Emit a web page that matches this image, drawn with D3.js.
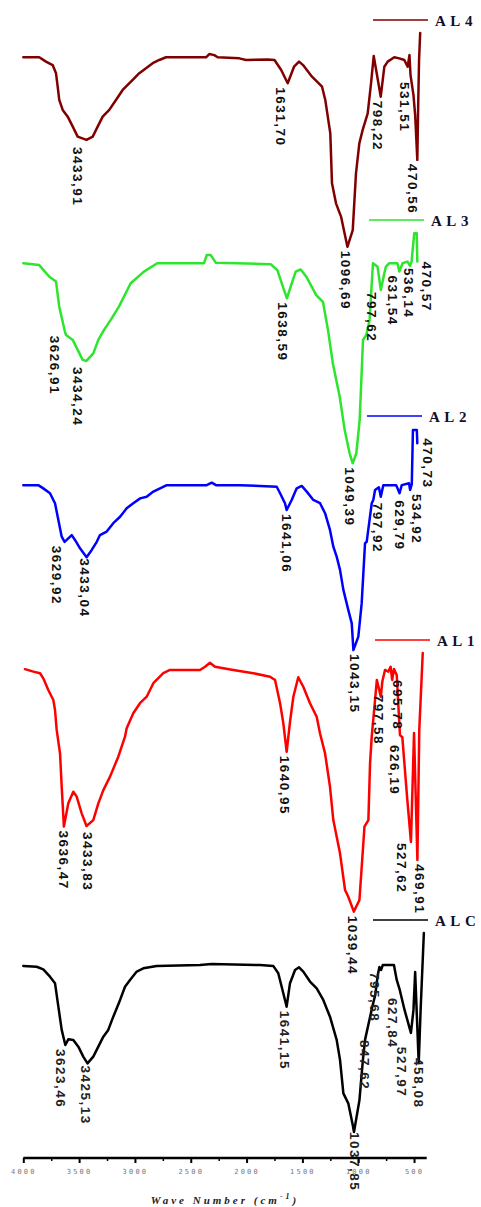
<!DOCTYPE html>
<html>
<head>
<meta charset="utf-8">
<script src="https://cdn.jsdelivr.net/npm/d3@7"></script>
<style>
  html, body { margin: 0; padding: 0; background: #fff; }
  svg { display: block; }
</style>
</head>
<body>
<svg id="chart" width="481" height="1207"></svg>
<script>
// FTIR spectra: [wavenumber (cm-1), transmittance (a.u.)]
const al4 = [
  [4000,89.9],[3857,89.9],[3797,88.3],[3737,87.0],[3707,84.0],[3692,79.0],[3678,74.1],[3647,70.4],
  [3602,67.9],[3557,64.2],[3513,60.5],[3433.91,59.3],[3378,60.5],[3334,64.2],[3289,67.9],[3230,70.4],
  [3170,74.1],[3110,77.8],[3020,81.5],[2961,84.0],[2901,85.8],[2841,87.7],[2782,88.9],[2722,89.9],
  [2363,89.9],[2334,91.1],[2289,90.7],[2259,89.9],[2065,89.5],[2005,88.9],[1810,89.1],[1750,88.9],
  [1690,85.2],[1631.70,80.3],[1575,86.4],[1530,88.3],[1494,87.0],[1414,82.7],[1324,79.0],[1295,74.1],
  [1250,61.7],[1235,43.2],[1199,35.8],[1154,30.9],[1096.69,19.7],[1049,25.9],[1020,46.9],[990,58.0],
  [960,63.0],[915,69.1],[885,80.3],[861,90.4],[798.22,75.3],[766,86.4],[736,88.3],[677,89.9],
  [632,89.5],[587,88.9],[557,86.4],[541,90.7],[531.51,83.3],[505,75.9],[490,68.5],[470.56,51.9],
  [462,74.1],[455,88.9],[445,98.9]
];
const al3 = [
  [4000,87.7],[3857,87.0],[3767,82.7],[3707,80.9],[3678,71.6],[3626.91,62.3],[3617,61.1],[3557,59.3],
  [3513,55.6],[3468,51.9],[3434.24,51.5],[3373,54.3],[3328,59.3],[3277,63.0],[3217,66.7],[3143,71.6],
  [3038,80.3],[2919,84.6],[2800,87.7],[2381,87.7],[2357,90.7],[2321,90.7],[2276,87.9],[2083,87.7],
  [1784,87.3],[1725,85.2],[1665,77.8],[1638.59,74.7],[1605,79.0],[1560,84.6],[1515,85.4],[1465,82.7],
  [1376,75.9],[1316,73.4],[1271,63.0],[1227,50.6],[1166,38.3],[1121,25.9],[1077,17.3],[1049.39,13.6],
  [1017,17.3],[987,29.6],[972,44.4],[957,59.3],[928,61.1],[898,66.7],[868,87.7],[827,86.4],
  [797.62,77.8],[766,84.0],[752,86.4],[721,87.7],[649,87.7],[631.54,84.6],[603,87.7],[558,88.3],
  [536.14,86.7],[522,88.3],[498,98.8],[476,98.8],[470.57,88.3]
];
const al2 = [
  [4000,78.1],[3866,78.1],[3821,76.9],[3761,75.1],[3716,71.4],[3686,65.2],[3656,59.0],[3629.92,57.1],
  [3611,57.8],[3566,59.6],[3537,57.8],[3492,54.7],[3433.04,51.4],[3387,54.1],[3342,57.1],[3313,59.6],
  [3253,60.9],[3194,64.0],[3133,66.4],[3074,69.5],[3015,71.4],[2953,73.2],[2895,73.8],[2835,75.7],
  [2775,76.9],[2715,78.1],[2357,78.1],[2312,79.0],[2274,78.1],[2059,78.1],[1880,77.8],[1730,77.5],
  [1700,75.1],[1656,71.4],[1641.06,68.9],[1596,72.6],[1551,76.9],[1506,77.8],[1461,75.7],[1402,72.6],
  [1342,71.4],[1297,67.7],[1253,61.5],[1223,55.3],[1193,51.6],[1163,46.7],[1133,39.3],[1089,31.9],
  [1058,26.9],[1043.15,17.0],[999,22.0],[969,34.3],[939,56.6],[924,57.1],[879,71.4],[865,72.6],
  [849,76.3],[815,77.3],[797.92,73.8],[775,78.1],[660,78.1],[629.79,75.1],[610,78.1],[545,78.8],
  [534.92,76.3],[520,78.5],[510,98.5],[475,98.5],[470.73,93.6]
];
const al1 = [
  [3985,92.9],[3910,92.0],[3850,91.4],[3821,89.5],[3776,85.2],[3731,81.5],[3716,77.8],[3701,70.4],
  [3671,61.7],[3656,49.4],[3636.47,34.6],[3597,43.2],[3552,47.5],[3522,45.7],[3477,39.5],[3433.83,34.8],
  [3373,37.0],[3328,43.2],[3283,48.1],[3223,53.1],[3149,60.5],[3089,67.9],[3074,71.0],[3015,76.6],
  [2955,80.3],[2895,82.7],[2835,87.7],[2746,91.4],[2686,92.6],[2417,92.6],[2372,93.8],[2328,95.3],
  [2283,93.8],[2119,92.6],[1940,91.4],[1790,90.1],[1745,88.9],[1700,80.3],[1671,72.9],[1640.95,62.3],
  [1611,73.4],[1581,82.7],[1537,89.9],[1492,86.4],[1432,80.3],[1372,75.3],[1342,69.1],[1297,61.7],
  [1253,49.4],[1223,37.0],[1163,24.7],[1118,11.1],[1089,8.6],[1039.44,3.1],[989,7.4],[944,34.6],
  [909,37.0],[894,58.0],[879,67.9],[849,81.5],[833,88.9],[797.58,82.7],[784,88.3],[760,92.6],
  [730,92.0],[710,93.8],[695.78,88.9],[680,93.0],[655,90.7],[626.19,68.5],[605,67.7],[560,44.4],
  [527.62,28.9],[500,69.3],[469.91,22.2],[453,70.4],[422,98.9]
];
const alc = [
  [4000,86.7],[3880,86.4],[3821,85.4],[3761,82.7],[3716,80.3],[3686,71.6],[3656,63.0],[3623.46,57.4],
  [3597,59.5],[3552,59.3],[3507,56.8],[3463,53.1],[3425.13,50.6],[3373,53.1],[3328,56.8],[3283,60.5],
  [3239,63.0],[3194,67.9],[3133,74.1],[3089,79.0],[3044,81.5],[2984,84.6],[2925,85.8],[2805,86.7],
  [2417,87.0],[2312,87.4],[1880,87.0],[1761,86.7],[1716,84.0],[1671,76.6],[1641.15,71.6],[1611,80.3],
  [1566,85.2],[1530,86.2],[1492,84.6],[1432,80.9],[1372,78.4],[1313,74.1],[1253,67.9],[1193,59.3],
  [1163,51.9],[1133,39.5],[1089,35.8],[1049,27.8],[1037.85,25.2],[989,37.0],[958,51.9],[939,59.3],
  [894,67.8],[870,72.2],[847.62,75.9],[825,83.3],[810,86.3],[795.68,85.2],[780,87.0],[680,87.0],
  [655,81.5],[627.84,77.8],[585,70.4],[527.97,61.9],[505,70.4],[490,84.4],[458.08,50.7],[440,71.5],
  [412,98.9]
];

// Band positions annotated on each spectrum (cm-1)
const al4Peaks = [3433.91, 1631.70, 1096.69, 798.22, 531.51, 470.56];
const al3Peaks = [3626.91, 3434.24, 1638.59, 1049.39, 797.62, 631.54, 536.14, 470.57];
const al2Peaks = [3629.92, 3433.04, 1641.06, 1043.15, 797.92, 629.79, 534.92, 470.73];
const al1Peaks = [3636.47, 3433.83, 1640.95, 1039.44, 797.58, 695.78, 626.19, 527.62, 469.91];
const alcPeaks = [3623.46, 3425.13, 1641.15, 1037.85, 847.62, 795.68, 627.84, 527.97, 458.08];

const sampleNames = ["A L 4", "A L 3", "A L 2", "A L 1", "A L C"];
const majorTicks = [4000, 3500, 3000, 2500, 2000, 1500, 1000, 500];
const minorTicks = [3750, 3250, 2750, 2250, 1750, 1250, 750];

// ---- layout ----
const W = 481, H = 1207;
const svg = d3.select("#chart");
svg.append("rect").attr("width", W).attr("height", H).attr("fill", "#fff");

const x = d3.scaleLinear().domain([4000, 400]).range([23.3, 425.2]);
const axisY = 1158;
const bandHeight = 270;

// stacked offsets, legend placement and label nudges for each trace
const layout = [
  { top: 30,  legendX: 373, color: "#800000",
    nudge: [[-9,3],[-7,0],[-2,0],[-3,0],[-6,3],[-5,0]] },
  { top: 230, legendX: 369, color: "#2de52d",
    nudge: [[-10,0],[-9,2],[-4,0],[-3,0],[-9,-2],[-7,0],[-2,-2],[9,-4]] },
  { top: 426, legendX: 367, color: "#0000ff",
    nudge: [[-8,0],[-2,-3],[0,0],[1,0],[-3,2],[0,3],[6,0],[10,-9]] },
  { top: 650, legendX: 375, color: "#ff0000",
    nudge: [[0,0],[1,2],[-2,0],[-1,0],[-2,-6],[5,-4],[-5,6],[-9,-3],[2,0]] },
  { top: 930, legendX: 373, color: "#000000",
    nudge: [[-5,0],[-2,-2],[-2,0],[1,-4],[-11,41],[-7,-2],[-7,4],[-9,10],[0,-9]] }
];

const spectra = [al4, al3, al2, al1, alc];
const peaks = [al4Peaks, al3Peaks, al2Peaks, al1Peaks, alcPeaks];
const fmt = v => v.toFixed(2).replace(".", ",");

spectra.forEach((data, i) => {
  const L = layout[i];
  const y = d3.scaleLinear().domain([0, 100]).range([L.top + bandHeight, L.top]);
  const g = svg.append("g").attr("class", "spectrum");

  // legend key
  const ly = L.top - 10;
  g.append("line")
    .attr("x1", L.legendX).attr("x2", L.legendX + 55)
    .attr("y1", ly).attr("y2", ly)
    .attr("stroke", L.color).attr("stroke-width", 1.4);
  g.append("text")
    .attr("x", L.legendX + 62).attr("y", ly + 6)
    .attr("font-family", "'Liberation Serif', 'Times New Roman', serif")
    .attr("font-weight", "bold").attr("font-size", 15)
    .attr("letter-spacing", 0.8)
    .attr("fill", "#10102a")
    .text(sampleNames[i]);

  // trace
  g.append("path")
    .datum(data)
    .attr("fill", "none")
    .attr("stroke", L.color)
    .attr("stroke-width", 2.5)
    .attr("stroke-linejoin", "round")
    .attr("stroke-linecap", "round")
    .attr("d", d3.line().x(d => x(d[0])).y(d => y(d[1])));

  // band labels, read down from each minimum
  peaks[i].forEach((p, j) => {
    const pt = data.find(d => d[0] === p);
    const [dx, dy] = L.nudge[j] || [0, 0];
    const px = x(p) + dx, py = y(pt[1]) + 4 + dy;
    g.append("text")
      .attr("transform", `translate(${px},${py}) rotate(90)`)
      .attr("dominant-baseline", "central")
      .attr("text-anchor", "start")
      .attr("font-family", "'Liberation Sans', Arial, sans-serif")
      .attr("font-weight", "bold")
      .attr("font-size", 13.5)
      .attr("letter-spacing", 1.5)
      .attr("fill", i === 4 ? "#222" : "#111")
      .text(fmt(p));
  });
});

// ---- x axis ----
const axisG = svg.append("g").attr("transform", `translate(0,${axisY})`);
axisG.call(
  d3.axisBottom(x).tickValues(majorTicks).tickSize(5).tickSizeOuter(0).tickPadding(6)
    .tickFormat(d3.format("d"))
);
axisG.select(".domain").attr("stroke", "#000").attr("stroke-width", 2.5)
  .attr("d", `M${x(4000)},0H${x(400) + 1.5}`);
axisG.selectAll(".tick line").attr("stroke", "#000").attr("stroke-width", 2);
axisG.selectAll(".tick text")
  .attr("font-family", "'DejaVu Sans Mono', monospace")
  .attr("font-size", 7)
  .attr("letter-spacing", 2.2)
  .attr("fill", "#777");

const minorG = svg.append("g").attr("transform", `translate(0,${axisY})`);
minorG.call(d3.axisBottom(x).tickValues(minorTicks).tickSize(3).tickFormat(""));
minorG.select(".domain").remove();
minorG.selectAll(".tick line").attr("stroke", "#000").attr("stroke-width", 1.5);

// axis title
const title = svg.append("text")
  .attr("x", 225).attr("y", 1204)
  .attr("text-anchor", "middle")
  .attr("font-family", "'Liberation Serif', 'Times New Roman', serif")
  .attr("font-style", "italic").attr("font-weight", "bold")
  .attr("font-size", 11).attr("letter-spacing", 3)
  .attr("fill", "#222");
title.append("tspan").text("Wave Number (cm");
title.append("tspan").attr("dy", -5).attr("font-size", 8).text("-1");
title.append("tspan").attr("dy", 5).text(")");
</script>
</body>
</html>
